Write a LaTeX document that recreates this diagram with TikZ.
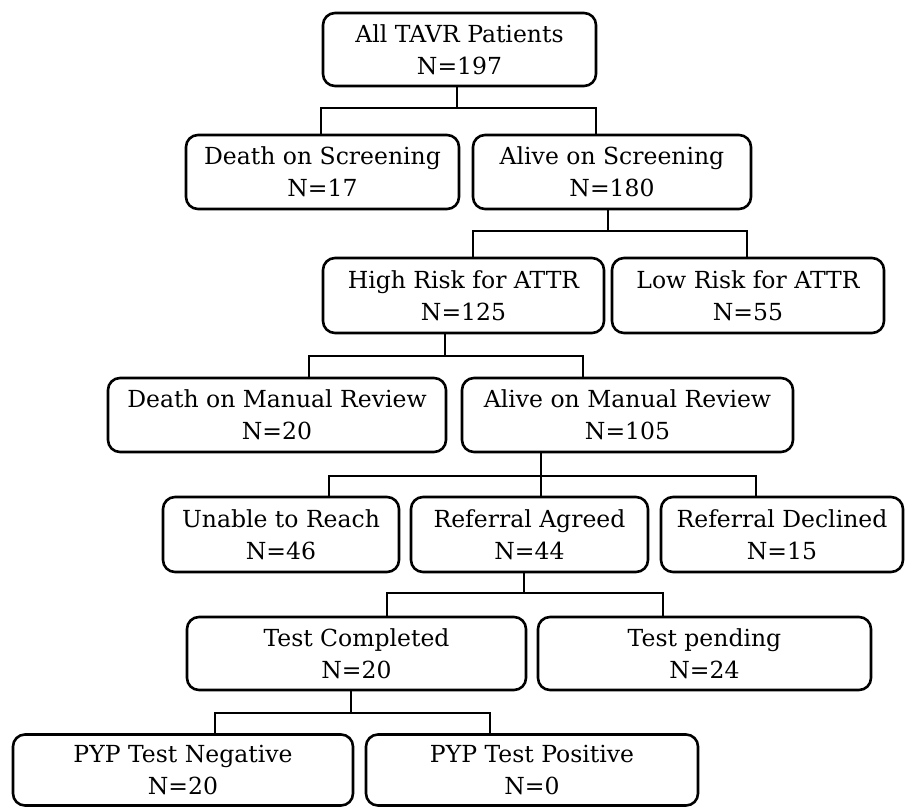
\documentclass[tikz,border=0pt]{standalone}
\usepackage{fontspec}
\setmainfont{DejaVu Serif}
\usepackage{tikz}

\begin{document}
\begin{tikzpicture}[x=1pt, y=-1pt,
                line width=2.6pt,
                cell/.style n args={2}{draw,
                    minimum width=#1pt,
                    minimum height=#2pt,
                    rounded corners=12pt,
                    inner sep=0pt,
                    align=center,
                    font=\fontsize{23.5}{32}\selectfont,
                    rectangle}]
                \useasboundingbox (0,0) rectangle (906,807);
                \node[cell={273}{73}](all) at (459.5, 49.5) {All TAVR Patients\\N=197};
                \node[cell={273}{74}](dscr) at (322.5, 172) {Death on Screening\\N=17};
                \node[cell={278}{74}](ascr) at (612, 172) {Alive on Screening\\N=180};
                \node[cell={281}{75}](high) at (463.5, 295.5) {High Risk for ATTR\\N=125};
                \node[cell={272}{75}](low) at (748, 295.5) {Low Risk for ATTR\\N=55};
                \node[cell={338}{74}](dmr) at (277, 415) {Death on Manual Review\\N=20};
                \node[cell={331}{74}](amr) at (627.5, 415) {Alive on Manual Review\\N=105};
                \node[cell={236}{75}](unab) at (281, 534.5) {Unable to Reach\\N=46};
                \node[cell={237}{75}](agr) at (529.5, 534.5) {Referral Agreed\\N=44};
                \node[cell={242}{75}](decl) at (782, 534.5) {Referral Declined\\N=15};
                \node[cell={339}{73}](done) at (356.5, 653.5) {Test Completed\\N=20};
                \node[cell={333}{73}](pend) at (704.5, 653.5) {Test pending\\N=24};
                \node[cell={340}{71}](neg) at (183, 770) {PYP Test Negative\\N=20};
                \node[cell={332}{71}](pos) at (532, 770) {PYP Test Positive\\N=0};
                % split points
                \coordinate (j1) at (457, 108);
                \coordinate (j1l) at (321, 108);
                \coordinate (j1r) at (596, 108);
                \coordinate (j2) at (608, 231);
                \coordinate (j2l) at (473, 231);
                \coordinate (j2r) at (747, 231);
                \coordinate (j3) at (445, 356);
                \coordinate (j3l) at (309, 356);
                \coordinate (j3r) at (583, 356);
                \coordinate (j4) at (541, 476);
                \coordinate (j4l) at (329, 476);
                \coordinate (j4r) at (756, 476);
                \coordinate (j5) at (524, 593);
                \coordinate (j5l) at (387, 593);
                \coordinate (j5r) at (663, 593);
                \coordinate (j6) at (351, 713);
                \coordinate (j6l) at (215, 713);
                \coordinate (j6r) at (490, 713);
                \draw (all.south -| j1) -- (j1);
                \draw (j1l |- dscr.north) -- (j1l) -- (j1r) -- (j1r |- ascr.north);
                \draw (ascr.south -| j2) -- (j2);
                \draw (j2l |- high.north) -- (j2l) -- (j2r) -- (j2r |- low.north);
                \draw (high.south -| j3) -- (j3);
                \draw (j3l |- dmr.north) -- (j3l) -- (j3r) -- (j3r |- amr.north);
                \draw (amr.south -| j4) -- (j4) -- (j4 |- agr.north);
                \draw (j4l |- unab.north) -- (j4l) -- (j4r) -- (j4r |- decl.north);
                \draw (agr.south -| j5) -- (j5);
                \draw (j5l |- done.north) -- (j5l) -- (j5r) -- (j5r |- pend.north);
                \draw (done.south -| j6) -- (j6);
                \draw (j6l |- neg.north) -- (j6l) -- (j6r) -- (j6r |- pos.north);
\end{tikzpicture}
\end{document}
